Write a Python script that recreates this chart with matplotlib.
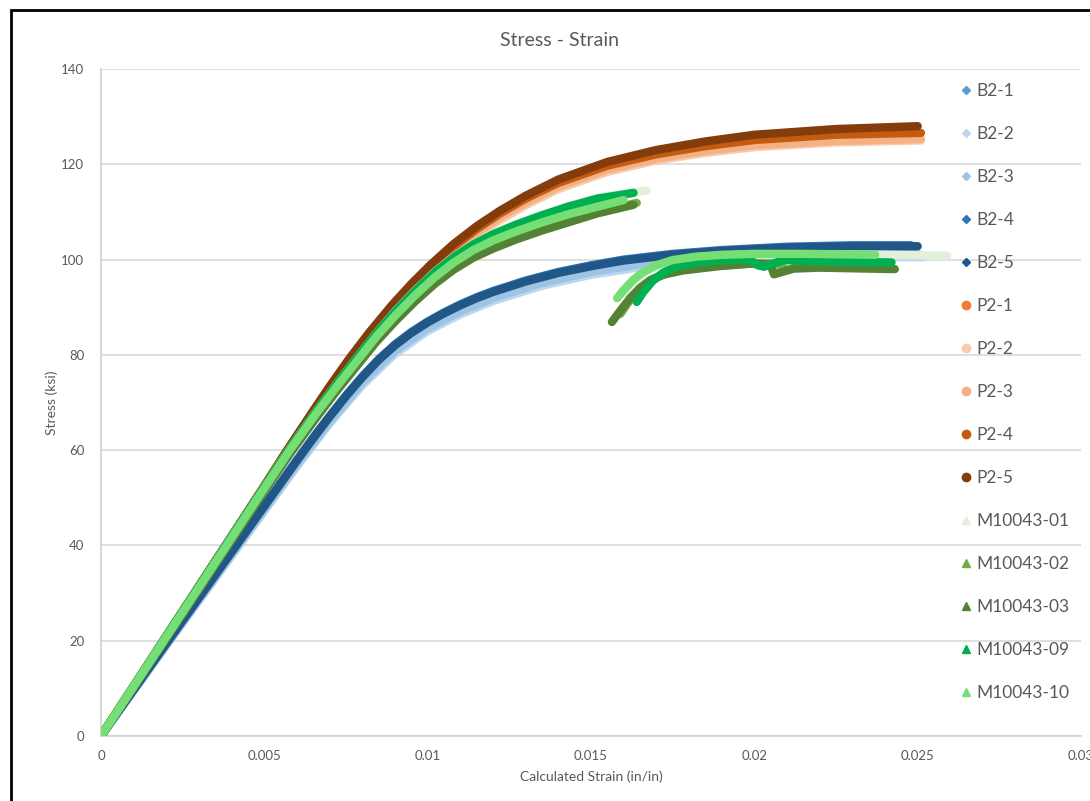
import numpy as np
import matplotlib
matplotlib.use('Agg')
import matplotlib.pyplot as plt
from matplotlib.lines import Line2D
from matplotlib.patches import Rectangle

plt.rcParams['font.family'] = ['Lato', 'DejaVu Sans']

# --- B2 specimens (strain in/in, stress ksi) ---
b2_5_x = [0, 0.0010, 0.0020, 0.0030, 0.0040, 0.0050, 0.0060, 0.0065, 0.0070, 0.0075, 0.0080, 0.0085, 0.0090, 0.0095,
          0.0100, 0.0105, 0.0110, 0.0115, 0.0120, 0.0130, 0.0140, 0.0150, 0.0160, 0.0175, 0.0190, 0.0210, 0.0230, 0.0250]
b2_5_y = [0, 9.7, 19.4, 29.0, 38.6, 48.2, 57.8, 62.5, 67.0, 71.3, 75.3, 78.9, 82.0, 84.6,
          86.8, 88.7, 90.4, 91.9, 93.2, 95.4, 97.2, 98.6, 99.8, 101.0, 101.8, 102.5, 102.8, 102.8]
b2_4_x = [0, 0.0010, 0.0020, 0.0030, 0.0040, 0.0050, 0.0060, 0.0065, 0.0070, 0.0075, 0.0080, 0.0085, 0.0090, 0.0095,
          0.0100, 0.0105, 0.0110, 0.0115, 0.0120, 0.0130, 0.0140, 0.0150, 0.0160, 0.0175, 0.0190, 0.0210, 0.0230, 0.0248]
b2_4_y = [0, 9.8, 19.6, 29.2, 38.8, 48.4, 58.0, 62.7, 67.2, 71.5, 75.5, 79.1, 82.2, 84.8,
          87.0, 88.9, 90.6, 92.1, 93.4, 95.6, 97.4, 98.8, 100.0, 101.2, 102.0, 102.7, 103.0, 103.0]
b2_1_x = [0, 0.0020, 0.0040, 0.0060, 0.0070, 0.0080, 0.0090, 0.0100, 0.0110, 0.0120, 0.0135, 0.0150, 0.0170, 0.0190, 0.0215, 0.0245]
b2_1_y = [0, 19.3, 38.4, 57.5, 66.6, 74.8, 81.5, 86.3, 89.9, 92.7, 95.9, 98.1, 100.2, 101.4, 102.0, 102.2]
b2_2_x = [0, 0.0020, 0.0040, 0.0060, 0.0070, 0.0080, 0.0090, 0.0100, 0.0110, 0.0120, 0.0135, 0.0150, 0.0170, 0.0190, 0.0215, 0.0252]
b2_2_y = [0, 19.0, 37.8, 56.6, 65.6, 73.6, 80.2, 85.0, 88.5, 91.3, 94.5, 96.8, 98.9, 100.0, 100.5, 100.5]
b2_3_x = [0, 0.0020, 0.0040, 0.0060, 0.0070, 0.0080, 0.0090, 0.0100, 0.0110, 0.0120, 0.0135, 0.0150, 0.0170, 0.0190, 0.0215, 0.0250]
b2_3_y = [0, 19.1, 38.1, 57.0, 66.0, 74.2, 80.8, 85.6, 89.1, 91.9, 95.1, 97.4, 99.5, 100.7, 101.2, 101.3]

# --- P2 specimens ---
p2_x = [0, 0.0010, 0.0020, 0.0030, 0.0040, 0.0050, 0.0057, 0.0065, 0.0070, 0.0076, 0.0082, 0.0089, 0.0095,
        0.0101, 0.0108, 0.0115, 0.0122, 0.0130, 0.0140, 0.0155, 0.0170, 0.0185, 0.0200, 0.0225]
p2_5_x = p2_x + [0.0250]
p2_5_y = [0, 10.5, 21.0, 31.5, 42.0, 52.5, 60.0, 68.3, 73.4, 79.2, 84.6, 90.4, 94.9,
          99.0, 103.3, 107.0, 110.2, 113.4, 116.8, 120.5, 123.0, 124.8, 126.2, 127.4, 128.0]
p2_4_x = p2_x + [0.0251]
p2_4_y = [0, 10.5, 21.0, 31.5, 42.0, 52.5, 60.0, 68.2, 73.2, 79.0, 84.3, 90.0, 94.4,
          98.5, 102.7, 106.4, 109.6, 112.8, 116.1, 119.7, 122.1, 123.8, 125.1, 126.2, 126.6]
p2_1_x = p2_x + [0.0249]
p2_1_y = [0, 10.5, 21.0, 31.5, 42.0, 52.5, 60.0, 68.2, 73.3, 79.1, 84.4, 90.1, 94.6,
          98.7, 102.9, 106.6, 109.8, 113.0, 116.3, 119.9, 122.3, 124.1, 125.4, 126.5, 127.0]
p2_3_x = p2_x + [0.0251]
p2_3_y = [0, 10.4, 20.9, 31.3, 41.8, 52.2, 59.6, 67.8, 72.8, 78.5, 83.8, 89.4, 93.8,
          97.8, 102.0, 105.6, 108.8, 111.9, 115.3, 118.9, 121.2, 122.8, 124.0, 124.9, 125.3]
p2_2_x = p2_x + [0.0251]
p2_2_y = [0, 10.4, 20.8, 31.2, 41.6, 52.0, 59.4, 67.5, 72.5, 78.2, 83.4, 89.0, 93.4,
          97.4, 101.5, 105.1, 108.2, 111.4, 114.8, 118.4, 120.8, 122.4, 123.6, 124.6, 125.0]

# --- M10043 specimens: first loading, then second branch ---
m_x = [0, 0.0010, 0.0020, 0.0030, 0.0040, 0.0050, 0.0058, 0.0066, 0.0072, 0.0078, 0.0084, 0.0090, 0.0096,
       0.0102, 0.0108, 0.0114, 0.0120, 0.0127, 0.0135, 0.0143, 0.0152]

m01_x = m_x + [0.0167]
m01_y = [0, 10.5, 21.0, 31.4, 41.9, 52.3, 60.6, 68.3, 73.8, 79.1, 84.3, 89.1, 93.4,
         97.3, 100.6, 103.3, 105.4, 107.4, 109.4, 111.2, 113.0, 114.5]
m01_x2 = [0.0161, 0.0164, 0.0168, 0.0174, 0.0182, 0.0195, 0.0215, 0.0240, 0.0259]
m01_y2 = [93.0, 95.8, 98.0, 99.6, 100.5, 101.0, 101.1, 101.0, 100.8]

m02_x = m_x + [0.0164]
m02_y = [0, 10.3, 20.6, 30.9, 41.2, 51.5, 59.6, 67.1, 72.5, 77.6, 82.7, 87.2, 91.3,
         95.0, 98.1, 100.6, 102.5, 104.4, 106.3, 108.0, 109.9, 111.9]
m02_x2 = [0.0159, 0.0162, 0.0165, 0.0169, 0.0175, 0.0185, 0.0198, 0.0207, 0.0210, 0.0214, 0.0225, 0.0240]
m02_y2 = [88.6, 91.6, 94.0, 96.0, 97.5, 98.5, 99.1, 99.2, 97.8, 98.6, 98.7, 98.4]

m03_x = m_x + [0.0163]
m03_y = [0, 10.3, 20.6, 30.8, 41.1, 51.4, 59.4, 66.9, 72.3, 77.4, 82.5, 87.0, 91.1,
         94.8, 97.9, 100.4, 102.3, 104.2, 106.1, 107.8, 109.7, 111.5]
m03_x2 = [0.01564, 0.0159, 0.0162, 0.0165, 0.0168, 0.0172, 0.0178, 0.0189, 0.0200, 0.0205, 0.0206, 0.0208, 0.0212, 0.0220, 0.0243]
m03_y2 = [86.9, 89.3, 91.9, 94.0, 95.6, 96.8, 97.7, 98.6, 99.2, 99.0, 96.9, 97.3, 98.1, 98.3, 98.0]

m09_x = m_x + [0.0163]
m09_y = [0, 10.5, 21.0, 31.4, 41.9, 52.3, 60.6, 68.3, 73.8, 79.1, 84.3, 89.0, 93.3,
         97.2, 100.5, 103.2, 105.3, 107.3, 109.3, 111.1, 112.8, 114.0]
m09_x2 = [0.0164, 0.0166, 0.0169, 0.0172, 0.0176, 0.0182, 0.0189, 0.0196, 0.0199, 0.0201, 0.0203, 0.0206, 0.0209, 0.0220, 0.0242]
m09_y2 = [91.1, 93.2, 95.6, 97.2, 98.5, 99.4, 99.8, 100.0, 99.8, 98.8, 98.5, 99.2, 99.9, 99.6, 99.4]

m10_x = m_x + [0.0160]
m10_y = [0, 10.4, 20.8, 31.2, 41.6, 52.0, 60.2, 67.8, 73.2, 78.4, 83.6, 88.2, 92.4,
         96.2, 99.4, 102.0, 104.0, 105.9, 107.8, 109.5, 111.1, 112.5]
m10_x2 = [0.0158, 0.0160, 0.0163, 0.0166, 0.0170, 0.0175, 0.0182, 0.0190, 0.0200, 0.0215, 0.0237]
m10_y2 = [91.9, 93.6, 95.8, 97.4, 98.8, 99.9, 100.6, 101.0, 101.2, 101.2, 101.0]

series = [
    ('B2-1', [(b2_1_x, b2_1_y)], '#5B9BD5', 'D'),
    ('B2-2', [(b2_2_x, b2_2_y)], '#BDD7EE', 'D'),
    ('B2-3', [(b2_3_x, b2_3_y)], '#9DC3E6', 'D'),
    ('B2-4', [(b2_4_x, b2_4_y)], '#2E75B6', 'D'),
    ('B2-5', [(b2_5_x, b2_5_y)], '#215787', 'D'),
    ('P2-1', [(p2_1_x, p2_1_y)], '#ED7D31', 'o'),
    ('P2-2', [(p2_2_x, p2_2_y)], '#F8CBAD', 'o'),
    ('P2-3', [(p2_3_x, p2_3_y)], '#F4B183', 'o'),
    ('P2-4', [(p2_4_x, p2_4_y)], '#C55A11', 'o'),
    ('P2-5', [(p2_5_x, p2_5_y)], '#843C0C', 'o'),
    ('M10043-01', [(m01_x, m01_y), (m01_x2, m01_y2)], '#E2F0D9', '^'),
    ('M10043-02', [(m02_x, m02_y), (m02_x2, m02_y2)], '#70AD47', '^'),
    ('M10043-03', [(m03_x, m03_y), (m03_x2, m03_y2)], '#548235', '^'),
    ('M10043-09', [(m09_x, m09_y), (m09_x2, m09_y2)], '#00B050', '^'),
    ('M10043-10', [(m10_x, m10_y), (m10_x2, m10_y2)], '#75DE75', '^'),
]

grey = '#595959'
fig = plt.figure(figsize=(10.9, 8.01), dpi=100)
ax = fig.add_axes([101 / 1090, 1 - 736 / 801, 980 / 1090, 667 / 801])

handles = []
for name, segs, col, mk in series:
    for sx, sy in segs:
        ax.plot(sx, sy, color=col, lw=6, solid_capstyle='round', solid_joinstyle='round', zorder=3)
    ms = {'D': 4.5, 'o': 6, '^': 6}[mk]
    handles.append(Line2D([], [], ls='none', marker=mk, color=col, markersize=ms, label=name))

ax.set_xlim(0, 0.03)
ax.set_ylim(0, 140)
ax.set_xticks([0, 0.005, 0.01, 0.015, 0.02, 0.025, 0.03])
ax.set_xticklabels(['0', '0.005', '0.01', '0.015', '0.02', '0.025', '0.03'])
ax.set_yticks(range(0, 141, 20))
ax.yaxis.grid(True, color='#D9D9D9', lw=1.2, zorder=0)
ax.set_axisbelow(True)
for s in ['top', 'right']:
    ax.spines[s].set_visible(False)
for s in ['left', 'bottom']:
    ax.spines[s].set_color('#D0D0D0')
    ax.spines[s].set_linewidth(1.2)
ax.tick_params(length=0, labelsize=9.5, labelcolor=grey)
ax.tick_params(axis='y', pad=12)
ax.tick_params(axis='x', pad=10)

fig.text(560 / 1090, 1 - 40 / 801, 'Stress - Strain', ha='center', va='center', fontsize=14, color=grey)
fig.text(52 / 1090, 1 - 403 / 801, 'Stress (ksi)', ha='center', va='center', rotation=90, fontsize=10, color=grey)
fig.text(591 / 1090, 1 - 777 / 801, 'Calculated Strain (in/in)', ha='center', va='center', fontsize=10, color=grey)

leg = fig.legend(handles=handles, loc='upper left', bbox_to_anchor=(950 / 1090, 1 - 76 / 801),
                 frameon=False, fontsize=12.5, labelspacing=1.555, handlelength=1.0,
                 handletextpad=0.1, borderaxespad=0)
for t in leg.get_texts():
    t.set_color(grey)

# outer chart frame
fig.patches.append(Rectangle((11 / 1090, -0.1), 1.2, 1 - 10 / 801 + 0.1, transform=fig.transFigure,
                             fill=False, ec='black', lw=2))

fig.savefig('out.png', dpi=100)
